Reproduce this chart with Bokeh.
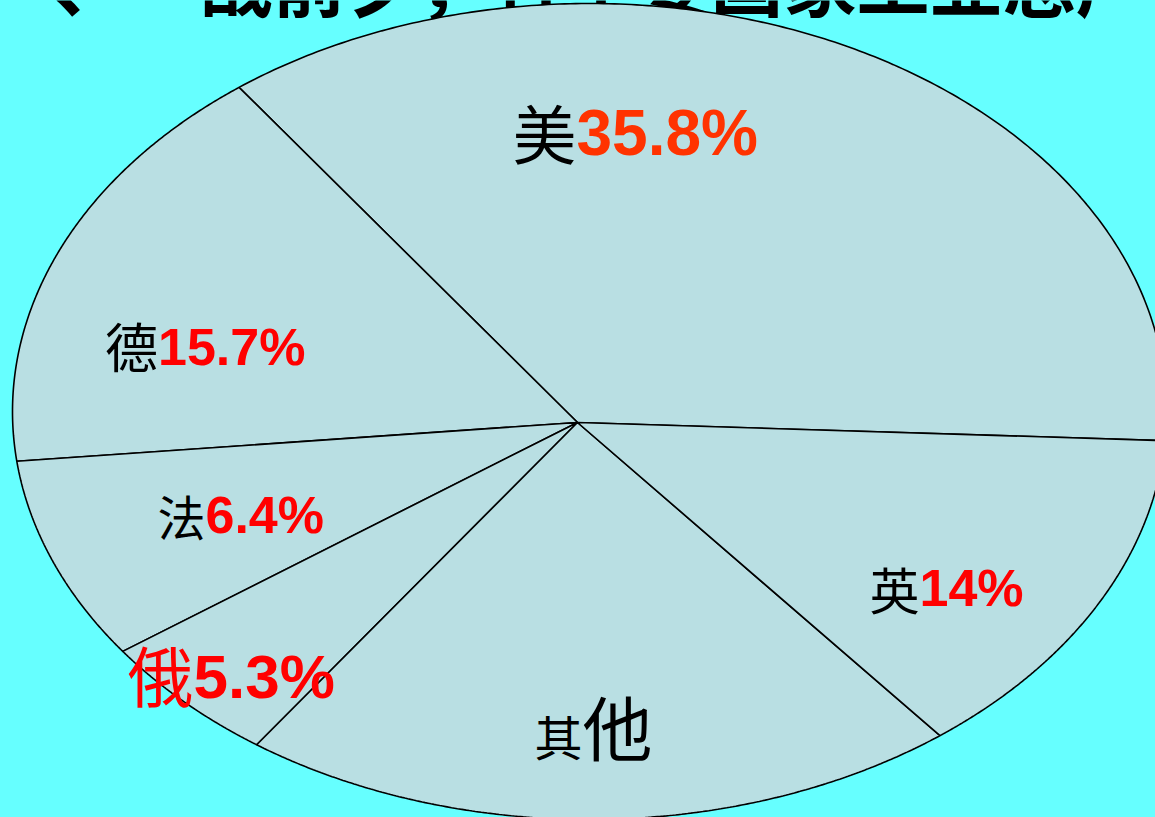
import numpy as np
from bokeh.plotting import figure
from bokeh.models import Range1d, GlobalInlineStyleSheet
from bokeh.core.properties import value
from bokeh.embed import file_html
from bokeh.resources import INLINE

# ---------------- data ----------------
countries = ["美", "德", "法", "俄", "其他", "英"]
shares = [35.8, 15.7, 6.4, 5.3, 22.8, 14.0]          # values printed on the chart
drawn_shares = [35.6, 16.7, 8.3, 5.4, 20.7, 13.4]    # slice sizes as drawn in the picture
value_labels = ["35.8%", "15.7%", "6.4%", "5.3%", "", "14%"]
title_text = "一、一战前夕，各主要国家工业总产值比重"

# ---------------- layout / style ----------------
W, H = 1155, 817
BG = "#66FFFF"
PIE = "#B9DFE3"
CJK = "Noto Sans CJK SC"
LAT = "Liberation Sans"
K_CJK = 0.46   # baseline correction (fraction of font size)
K_LAT = 0.43


def Y(py):
    return H - py


# ellipse (pixel geometry) and pie centre
ex, ey, a, b = 589, Y(411), 577, 408
cx, cy = 577, Y(422)
start_angle = -2.5

p = figure(width=W, height=H, x_range=Range1d(0, W), y_range=Range1d(0, H),
           output_backend="svg", toolbar_location=None, min_border=0,
           x_axis_type=None, y_axis_type=None,
           background_fill_color=BG, border_fill_color=BG,
           outline_line_color=None)
p.grid.visible = False
p.stylesheets = [GlobalInlineStyleSheet(
    css="html,body{margin:0;padding:0;background:#66FFFF;overflow:hidden}")]


def put_text(x, base_px, txt, font, size, color, align, bold=False):
    k = K_CJK if font == CJK else K_LAT
    p.text(x=[x], y=[Y(base_px - k * size)], text=[txt], text_font=value(font),
           text_font_size=f"{size}px", text_font_style="bold" if bold else "normal",
           text_color=color, text_align=align, text_baseline="alphabetic")


# title (mostly above the visible area)
put_text(-20, 12, title_text, CJK, 73, "black", "left", bold=True)

# slices
total = sum(drawn_shares)
bounds = start_angle + 360.0 * np.concatenate([[0], np.cumsum(drawn_shares)]) / total
dx0 = (cx - ex) / a
dy0 = (cy - ey) / b
C = dx0 ** 2 + dy0 ** 2 - 1
xs, ys = [], []
for t0, t1 in zip(bounds[:-1], bounds[1:]):
    th = np.radians(np.linspace(t0, t1, 240))
    B = dx0 * np.cos(th) + dy0 * np.sin(th)
    t = -B + np.sqrt(B * B - C)
    px = cx + t * a * np.cos(th)
    py = cy + t * b * np.sin(th)
    xs.append([cx] + list(px))
    ys.append([cy] + list(py))
p.patches(xs, ys, fill_color=PIE, line_color="black", line_width=1.6)

# label layout: junction x, baseline y (pixels), name size, value size
label_layout = {
    "美": (576, 160, 64, 64),
    "德": (157.5, 369, 53, 52),
    "法": (205, 537, 48, 52),
    "俄": (193, 703, 66, 62),
    "英": (919, 610, 50, 52),
}
name_colors = {"俄": "#FF0000"}
value_colors = {"美": "#FF3300"}

for name, vl in zip(countries, value_labels):
    if name in label_layout:
        jx, by, ns, vs = label_layout[name]
        put_text(jx, by, name, CJK, ns, name_colors.get(name, "black"), "right")
        put_text(jx, by, vl, LAT, vs, value_colors.get(name, "#FF0000"), "left", bold=True)
    else:
        # "其他": two characters of different sizes
        put_text(534, 757, name[0], CJK, 48, "black", "left")
        put_text(582, 757, name[1], CJK, 70, "black", "left")

open("out.html", "w").write(file_html(p, INLINE))
